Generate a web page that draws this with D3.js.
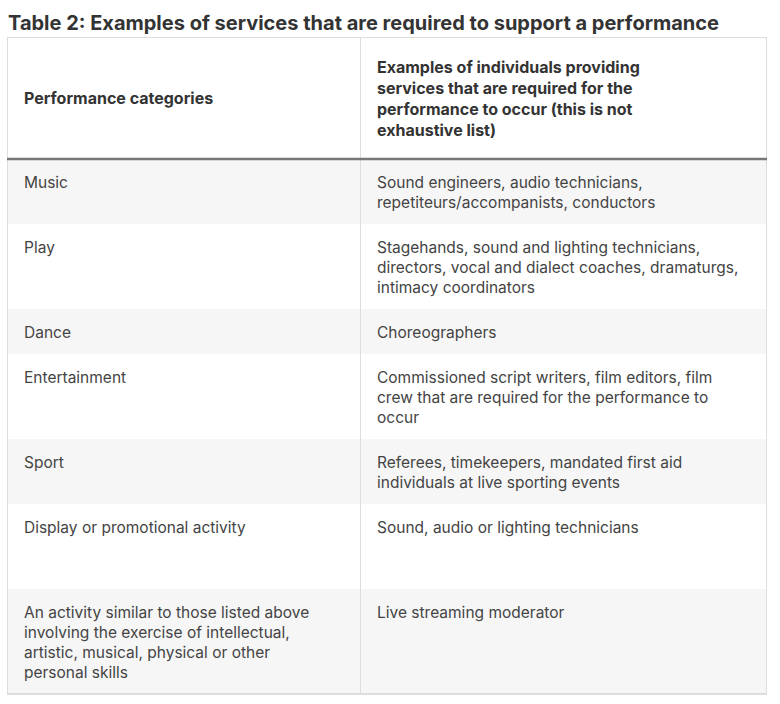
<!DOCTYPE html>
<html><head><meta charset="utf-8">
<script src="https://cdn.jsdelivr.net/npm/d3@7"></script>
<style>body{margin:0;background:#fff}</style>
</head><body>
<svg id="chart" width="780" height="704"></svg>
<script>
var title = "Table 2: Examples of services that are required to support a performance";
var headers = [["Performance categories"],
  ["Examples of individuals providing", "services that are required for the", "performance to occur (this is not", "exhaustive list)"]];
var categories = [
  ["Music"], ["Play"], ["Dance"], ["Entertainment"], ["Sport"], ["Display or promotional activity"],
  ["An activity similar to those listed above", "involving the exercise of intellectual,", "artistic, musical, physical or other", "personal skills"]
];
var examples = [
  ["Sound engineers, audio technicians,", "repetiteurs/accompanists, conductors"],
  ["Stagehands, sound and lighting technicians,", "directors, vocal and dialect coaches, dramaturgs,", "intimacy coordinators"],
  ["Choreographers"],
  ["Commissioned script writers, film editors, film", "crew that are required for the performance to", "occur"],
  ["Referees, timekeepers, mandated first aid", "individuals at live sporting events"],
  ["Sound, audio or lighting technicians"],
  ["Live streaming moderator"]
];
var minLines = [0, 0, 0, 0, 0, 3, 0];

(function() {
var svg = d3.select("#chart");
var font = "Inter, 'Noto Sans', sans-serif";
var left = 7, right = 767, split = 360, tableTop = 37, headH = 122, lh = 20;

svg.append("text").attr("x", 8).attr("y", 30).attr("font-family", font)
  .attr("font-size", 20).attr("font-weight", 700).attr("fill", "#333").text(title);

var rows = categories.map(function(c, i) {
  var n = Math.max(c.length, examples[i].length, minLines[i]);
  return {cat: c, ex: examples[i], h: n * lh + 25};
});
var y = tableTop + headH;
rows.forEach(function(r) { r.y = y; y += r.h; });
var bottom = y;

var x = d3.scaleOrdinal().domain([0, 1]).range([left, split]);

// header
var hg = svg.append("g");
headers.forEach(function(h, i) {
  var y0 = tableTop + headH / 2 - (h.length - 1) * 21 / 2 + 6;
  var t = hg.append("text").attr("font-family", font).attr("font-size", 16).attr("font-weight", 700)
    .attr("fill", "#333");
  h.forEach(function(line, k) {
    t.append("tspan").attr("x", x(i) + 17).attr("y", y0 + k * 21).text(line);
  });
});

// body rows
var rg = svg.selectAll("g.row").data(rows).enter().append("g").attr("class", "row");
rg.append("rect").attr("x", left).attr("y", function(d) { return d.y; })
  .attr("width", right - left).attr("height", function(d) { return d.h; })
  .attr("fill", function(d, i) { return i % 2 === 0 ? "#f6f6f6" : "#fff"; });
rg.append("line").attr("x1", left).attr("x2", right)
  .attr("y1", function(d) { return d.y + d.h + 0.5; }).attr("y2", function(d) { return d.y + d.h + 0.5; })
  .attr("stroke", "#dddddd");
[["cat", 0], ["ex", 1]].forEach(function(c) {
  rg.append("text").attr("font-family", font).attr("font-size", 15.5).attr("fill", "#444")
    .each(function(d) {
      var t = d3.select(this);
      d[c[0]].forEach(function(line, k) {
        t.append("tspan").attr("x", x(c[1]) + 17).attr("y", d.y + 29 + k * lh).text(line);
      });
    });
});

// borders
svg.append("rect").attr("x", left + 0.5).attr("y", tableTop + 0.5).attr("width", right - left - 1)
  .attr("height", bottom - tableTop - 1).attr("fill", "none").attr("stroke", "#dddddd");
svg.append("line").attr("x1", split + 0.5).attr("x2", split + 0.5).attr("y1", tableTop).attr("y2", bottom)
  .attr("stroke", "#dddddd");
svg.append("line").attr("x1", left).attr("x2", right).attr("y1", tableTop + headH).attr("y2", tableTop + headH)
  .attr("stroke", "#777").attr("stroke-width", 2.5);
})();
</script>
</body></html>
